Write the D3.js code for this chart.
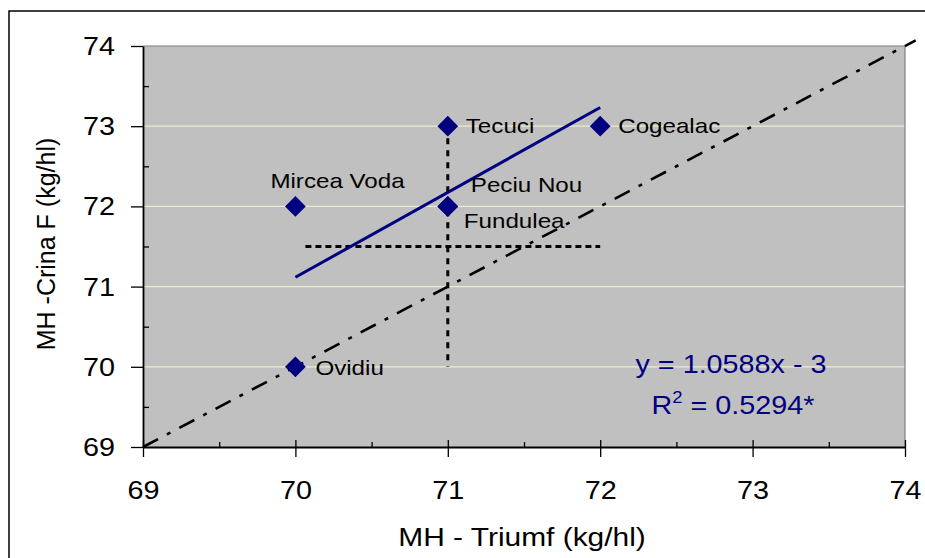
<!DOCTYPE html>
<html>
<head>
<meta charset="utf-8">
<script src="https://cdn.jsdelivr.net/npm/d3@7"></script>
<style>
  body { margin: 0; background: white; }
  svg { display: block; }
  text { font-family: "Liberation Sans", Arial, sans-serif; }
</style>
</head>
<body>
<svg width="925" height="558"></svg>
<script>
// data
const names = ["Ovidiu", "Mircea Voda", "Tecuci", "Peciu Nou", "Fundulea", "Cogealac"];
const triumf = [70, 70, 71, 71, 71, 72];
const crinaF = [70, 72, 73, 72, 72, 73];
const ticks = [69, 70, 71, 72, 73, 74];
const minorTicks = [69.5, 70.5, 71.5, 72.5, 73.5];
const slope = 1.0588, intercept = -3;
const eqText = "y = 1.0588x - 3";
const r2Text = " = 0.5294*";

// label placement (px from marker)
const labelOff = {
  "Ovidiu": [20, 8], "Mircea Voda": [-25, -18], "Tecuci": [18, 7],
  "Peciu Nou": [23, -14], "Fundulea": [16, 22], "Cogealac": [18, 7]
};

const svg = d3.select('svg');
const width = +svg.attr('width');
const height = +svg.attr('height');

// the original text is a bit wider than Arial, stretch it sideways
const stretch = 1.15;
function widen(sel) {
  sel.each(function() {
    const w = this.getComputedTextLength();
    d3.select(this).attr('textLength', w * stretch).attr('lengthAdjust', 'spacingAndGlyphs');
  });
}

const margin = {top: 46, left: 143, right: 20, bottom: 111};
const innerWidth = width - margin.left - margin.right;   // 762
const innerHeight = height - margin.top - margin.bottom; // 401

// outer frame (runs off the right and bottom edges)
svg.append('path')
  .attr('d', `M9,${height}V11H${width}`)
  .attr('fill', 'none').attr('stroke', 'black').attr('stroke-width', 1.5);

const xScale = d3.scaleLinear().domain([69, 74]).range([0, innerWidth]);
const yScale = d3.scaleLinear().domain([69, 74]).range([innerHeight, 0]);

const g = svg.append('g').attr('transform', `translate(${margin.left},${margin.top})`);

g.append('rect').attr('width', innerWidth).attr('height', innerHeight).attr('fill', '#c0c0c0');

// gridlines
g.selectAll('.grid').data(ticks.filter(t => t > 69 && t < 74)).enter()
  .append('line')
  .attr('x1', 0).attr('x2', innerWidth)
  .attr('y1', d => yScale(d)).attr('y2', d => yScale(d))
  .attr('stroke', '#ececcc').attr('stroke-width', 1.2);

// top/right border
g.append('path')
  .attr('d', `M0,0H${innerWidth}V${innerHeight}`)
  .attr('fill', 'none').attr('stroke', '#808080').attr('stroke-width', 1.2);

// minor ticks
g.append('g').call(d3.axisLeft(yScale).tickValues(minorTicks).tickSize(-6).tickFormat(''))
  .call(a => a.select('.domain').remove())
  .call(a => a.selectAll('text').remove())
  .selectAll('line').attr('stroke', 'black').attr('stroke-width', 1.3);
g.append('g').attr('transform', `translate(0,${innerHeight})`)
  .call(d3.axisBottom(xScale).tickValues(minorTicks).tickSize(-5).tickFormat(''))
  .call(a => a.select('.domain').remove())
  .call(a => a.selectAll('text').remove())
  .selectAll('line').attr('stroke', 'black').attr('stroke-width', 1.3);

// y axis
const yAxis = g.append('g')
  .call(d3.axisLeft(yScale).tickValues(ticks).tickSize(12).tickSizeOuter(0).tickFormat(d3.format('d')));
yAxis.select('.domain').attr('stroke-width', 1.8);
yAxis.selectAll('line').attr('stroke-width', 1.3);
yAxis.selectAll('text')
  .attr('x', -28).attr('dy', '0.34em')
  .attr('font-size', 25).attr('font-family', '"Liberation Sans", Arial, sans-serif').attr('fill', 'black')
  .call(widen);

// x axis
const xAxis = g.append('g').attr('transform', `translate(0,${innerHeight})`)
  .call(d3.axisBottom(xScale).tickValues(ticks).tickSize(10).tickSizeOuter(0).tickFormat(d3.format('d')));
xAxis.select('.domain').attr('stroke-width', 1.8);
xAxis.selectAll('line').attr('y1', -7).attr('stroke-width', 1.3);
xAxis.selectAll('text')
  .attr('x', 0).attr('y', 52).attr('dy', 0)
  .attr('font-size', 25).attr('font-family', '"Liberation Sans", Arial, sans-serif').attr('fill', 'black')
  .call(widen);

// 1:1 line
const diag = [69, 74.07];
g.append('line')
  .attr('x1', xScale(diag[0])).attr('y1', yScale(diag[0]))
  .attr('x2', xScale(diag[1])).attr('y2', yScale(diag[1]))
  .attr('stroke', 'black').attr('stroke-width', 2.6)
  .attr('stroke-dasharray', '17,10,4,10');

// midrange dotted lines
const xExt = d3.extent(triumf), yExt = d3.extent(crinaF);
const xMid = (xExt[0] + xExt[1]) / 2, yMid = (yExt[0] + yExt[1]) / 2;
g.append('line')
  .attr('x1', xScale(xMid)).attr('x2', xScale(xMid))
  .attr('y1', yScale(yExt[1])).attr('y2', yScale(yExt[0]))
  .attr('stroke', 'black').attr('stroke-width', 3).attr('stroke-dasharray', '6,6');
g.append('line')
  .attr('x1', xScale(xExt[0]) + 10).attr('x2', xScale(xExt[1]))
  .attr('y1', yScale(yMid)).attr('y2', yScale(yMid))
  .attr('stroke', 'black').attr('stroke-width', 3).attr('stroke-dasharray', '6,4');

// regression line
g.append('line')
  .attr('x1', xScale(xExt[0])).attr('y1', yScale(slope * xExt[0] + intercept))
  .attr('x2', xScale(xExt[1])).attr('y2', yScale(slope * xExt[1] + intercept))
  .attr('stroke', '#000080').attr('stroke-width', 3);

// points
const pts = names.map((n, i) => ({name: n, x: triumf[i], y: crinaF[i]}));
g.selectAll('.pt').data(pts).enter()
  .append('path')
  .attr('d', d3.symbol(d3.symbolSquare, 215))
  .attr('transform', d => `translate(${xScale(d.x)},${yScale(d.y)}) rotate(45)`)
  .attr('fill', '#000080');

g.selectAll('.lbl').data(pts).enter()
  .append('text')
  .attr('x', d => xScale(d.x) + labelOff[d.name][0])
  .attr('y', d => yScale(d.y) + labelOff[d.name][1])
  .attr('font-size', 21).attr('fill', 'black')
  .text(d => d.name)
  .call(widen);

// equation
g.append('text')
  .attr('x', 731 - margin.left).attr('y', 373 - margin.top)
  .attr('text-anchor', 'middle').attr('font-size', 25).attr('fill', '#000080')
  .text(eqText)
  .call(widen);
const r2 = g.append('text')
  .attr('x', 733 - margin.left).attr('y', 414 - margin.top)
  .attr('text-anchor', 'middle').attr('font-size', 25).attr('fill', '#000080');
r2.append('tspan').text('R');
r2.append('tspan').attr('font-size', 16).attr('dy', -11).text('2');
r2.append('tspan').attr('dy', 11).text(r2Text);
r2.call(widen);

// axis titles
svg.append('text')
  .attr('x', 522).attr('y', 546)
  .attr('text-anchor', 'middle').attr('font-size', 26).attr('fill', 'black')
  .text('MH - Triumf (kg/hl)')
  .call(widen);
svg.append('text')
  .attr('transform', 'rotate(-90)')
  .attr('x', -244).attr('y', 55)
  .attr('text-anchor', 'middle').attr('font-size', 25).attr('fill', 'black')
  .text('MH -Crina F (kg/hl)');
</script>
</body>
</html>
